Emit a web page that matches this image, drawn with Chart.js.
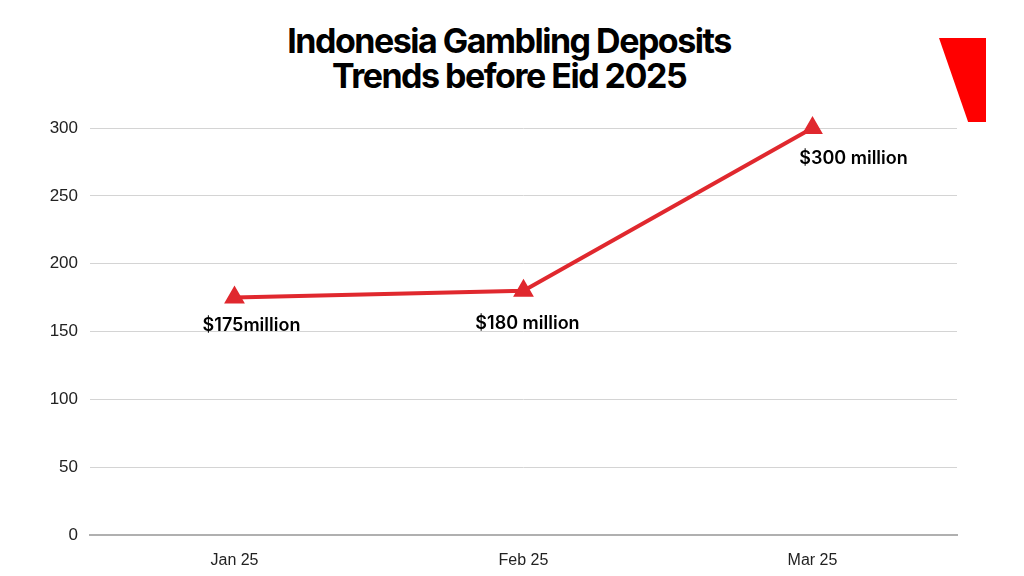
<!DOCTYPE html>
<html>
<head>
<meta charset="utf-8">
<script src="https://cdn.jsdelivr.net/npm/chart.js@4"></script>
<style>
  html, body { margin: 0; padding: 0; background: #fff; }
  #wrap { position: relative; width: 1024px; height: 576px; overflow: hidden; }
  #title {
    position: absolute; left: 0; top: 23px; width: 1018px; text-align: center;
    font-family: Inter, "Noto Sans", sans-serif; font-weight: 700; font-size: 34px;
    line-height: 35px; letter-spacing: -1.5px; color: #000;
  }
  #flag {
    position: absolute; left: 939px; top: 38px; width: 47px; height: 84px; background: #ff0000;
    clip-path: polygon(0 0, 100% 0, 100% 100%, 62% 100%);
  }
  canvas { position: absolute; left: 0; top: 0; }
</style>
</head>
<body>
<div id="wrap">
  <div id="title">Indonesia Gambling Deposits<br>Trends before Eid 2025</div>
  <div id="flag"></div>
  <canvas id="c" width="1024" height="576"></canvas>
</div>
<script>
const months = ['Jan 25', 'Feb 25', 'Mar 25'];
const deposits = [175, 180, 300];
const depositLabels = ['$175million', '$180 million', '$300 million'];
const yTicks = [0, 50, 100, 150, 200, 250, 300];

// labels sit under each point, last one shifted right
const labelShift = [[17, 28], [4, 33], [41, 31]];

const pointLabels = {
  id: 'pointLabels',
  afterDatasetsDraw(chart) {
    const ctx = chart.ctx;
    const meta = chart.getDatasetMeta(0);
    ctx.save();
    ctx.font = '600 18px Inter, "Noto Sans", sans-serif';
    ctx.fillStyle = '#000';
    ctx.textAlign = 'center';
    ctx.textBaseline = 'middle';
    meta.data.forEach((pt, i) => {
      ctx.fillText(depositLabels[i], pt.x + labelShift[i][0], pt.y + labelShift[i][1]);
    });
    ctx.restore();
  }
};

new Chart(document.getElementById('c').getContext('2d'), {
  type: 'line',
  data: {
    labels: months,
    datasets: [{
      data: deposits,
      borderColor: '#e0282e',
      backgroundColor: '#e0282e',
      borderWidth: 4,
      pointStyle: 'triangle',
      pointRadius: 8,
      pointHoverRadius: 8,
      tension: 0,
      clip: false
    }]
  },
  options: {
    responsive: false,
    animation: false,
    layout: { padding: { top: 128, right: 67, bottom: 0, left: 0 } },
    plugins: { legend: { display: false }, tooltip: { enabled: false } },
    scales: {
      x: {
        offset: true,
        grid: { display: false },
        border: { color: '#b0b0b0', width: 2 },
        ticks: { color: '#222', padding: 8, font: { family: '"Liberation Sans Narrow", "Liberation Sans", sans-serif', size: 16 } },
        afterFit(s) { s.height = 41; }
      },
      y: {
        min: 0, max: 300,
        afterBuildTicks(s) { s.ticks = yTicks.map(v => ({ value: v })); },
        grid: { color: '#d4d4d4', lineWidth: 1, drawTicks: false },
        border: { display: false },
        ticks: { color: '#222', padding: 12, font: { family: '"Liberation Sans Narrow", "Liberation Sans", sans-serif', size: 17 } },
        afterFit(s) { s.width = 90; }
      }
    }
  },
  plugins: [pointLabels]
});
</script>
</body>
</html>
